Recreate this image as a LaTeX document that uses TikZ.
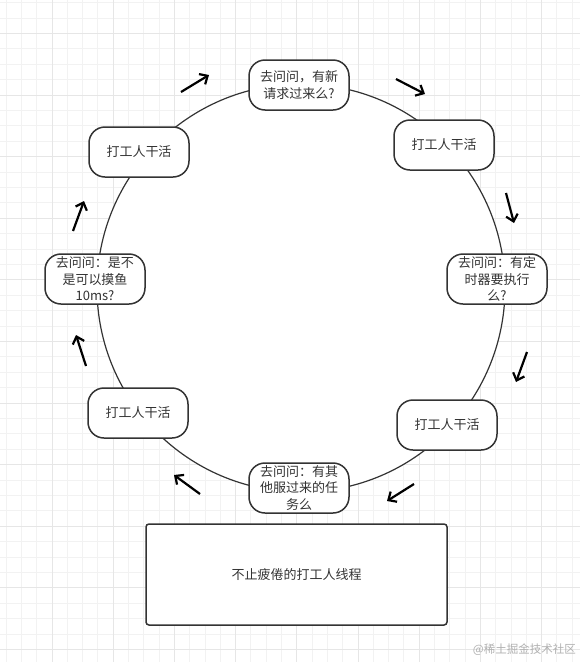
\documentclass[tikz,border=0pt]{standalone}
\usepackage{fontspec}
\newfontfamily\cjk{Noto Sans CJK SC}
\usetikzlibrary{arrows.meta, positioning}
\definecolor{lineGray}{HTML}{333333}
\definecolor{gridMinor}{HTML}{F2F2F2}
\definecolor{gridMajor}{HTML}{E6E6E6}
\definecolor{markGray}{HTML}{B0B0B0}

\tikzset{
  stepbox/.style={draw=lineGray, line width=1.5pt, fill=white, rounded corners=16pt,
    minimum width=100pt, minimum height=50pt, inner sep=0pt, align=center,
    text=lineGray, font=\cjk\fontsize{13}{16.5}\selectfont},
  flowarrow/.style={line width=2.2pt, -{Straight Barb[length=6.5pt, width=12pt]}},
}

\begin{document}
\begin{tikzpicture}[x=1pt, y=-1pt]
    \useasboundingbox (0,0) rectangle (580,662);
    \fill[white] (0,0) rectangle (580,662);

    % Grid
    \foreach \k in {0,...,37} {
        \draw[gridMinor, line width=0.8pt] ({6+15.3*\k},0) -- ++(0,662);
    }
    \foreach \k in {0,...,42} {
        \draw[gridMinor, line width=0.8pt] (0,{2.5+15.4*\k}) -- ++(580,0);
    }
    \foreach \k in {0,...,8} {
        \draw[gridMajor, line width=0.8pt] ({51.9+61.2*\k},0) -- ++(0,662);
    }
    \foreach \k in {0,...,10} {
        \draw[gridMajor, line width=0.8pt] (0,{33.3+61.6*\k}) -- ++(580,0);
    }

    % Loop
    \draw[lineGray, line width=1.2pt, fill=white] (301,288) circle[radius=204pt];

    % Steps
    \node[stepbox] (ask1) at (299,85) {去问问，有新\\请求过来么?};
    \node[stepbox] (work1) at (444,145) {打工人干活};
    \node[stepbox] (ask2) at (497,279) {去问问：有定\\时器要执行\\么?};
    \node[stepbox] (work2) at (447,425) {打工人干活};
    \node[stepbox] (ask3) at (299,488) {去问问：有其\\他服过来的任\\务么};
    \node[stepbox] (work3) at (138,413) {打工人干活};
    \node[stepbox] (ask4) at (95,279) {去问问：是不\\是可以摸鱼\\10ms?};
    \node[stepbox] (work4) at (139,152) {打工人干活};

    % Thread
    \node[stepbox, rounded corners=3pt, minimum width=301pt, minimum height=101pt] (thread) at (296.5,574.5) {不止疲倦的打工人线程};

    % Arrows
    \foreach \name/\sx/\sy/\ex/\ey in {a1/181/92/209/75, a2/396/79/425/94, a3/506/193/514/223,
        a4/527/352/516/382, a5/414/484/387/501, a6/200/494/174/475, a7/86/366/76/335, a8/73/231/84/201} {
        \coordinate (\name s) at (\sx,\sy);
        \coordinate (\name e) at (\ex,\ey);
        \draw[flowarrow] (\name s) -- (\name e);
    }

    % Watermark
    \node[anchor=east, inner sep=0pt, text=markGray, font=\cjk\fontsize{11.5}{12}\selectfont] (mark) at (576,650) {@稀土掘金技术社区};
\end{tikzpicture}
\end{document}
